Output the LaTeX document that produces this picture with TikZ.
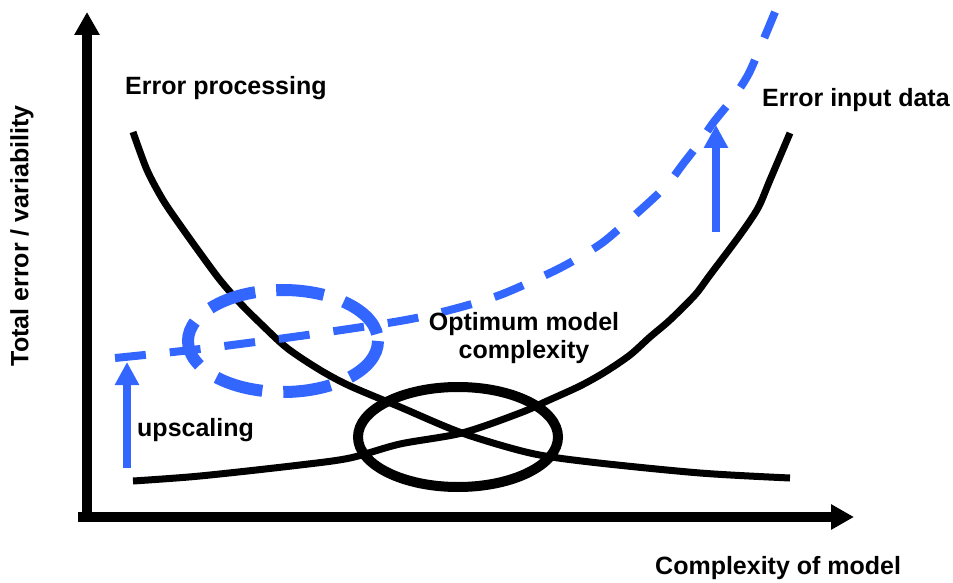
\documentclass[tikz,border=0pt]{standalone}
\usepackage{fontspec}
\setmainfont{Liberation Sans}
\usetikzlibrary{arrows.meta}
\definecolor{myblue}{RGB}{51,102,255}
\tikzset{
  lbl/.style={font=\fontsize{25}{28}\selectfont\bfseries, inner sep=0pt},
  axisline/.style={line width=9.5pt, -{Triangle[length=23pt,width=24pt]}},
  blackcurve/.style={line width=7pt, black},
  bluedash/.style={myblue, line width=8pt, dash pattern=on 31pt off 24pt},
  blueell/.style={myblue, line width=12pt, dash pattern=on 48pt off 21pt},
  bluearrow/.style={myblue, line width=7.5pt, -{Triangle[length=23pt,width=23pt]}}
}
\begin{document}
\begin{tikzpicture}[x=1pt,y=-1pt]
\useasboundingbox (0,0) rectangle (953,583);
% axes
\coordinate (ytip) at (87,12);
\coordinate (xtip) at (854,517);
\coordinate (ystart) at (87,522);
\coordinate (xstart) at (78,517);
\draw[axisline] (ystart) -- (ytip);
\draw[axisline] (xstart) -- (xtip);
% black curves
\draw[blackcurve] plot[smooth, tension=0.5] coordinates {(133,132) (147,170) (163,200) (180,225) (200,253) (220,280) (240,303) (260,323) (287,348) (320,370) (350,386) (400,407) (462,433) (530,453) (590,462) (700,473) (790,478)};
\draw[blackcurve] plot[smooth, tension=0.5] coordinates {(133,481) (200,476) (300,465) (350,458) (400,444) (462,433) (520,413) (547,401) (580,386) (605,372) (630,355) (650,337) (670,320) (695,295) (710,275) (740,235) (758,208) (770,180) (790,133)};
% black ellipse
\draw[line width=10pt] (458,437) ellipse [x radius=100, y radius=50];
% blue dashed curve
\draw[bluedash] plot[smooth, tension=0.5] coordinates {(115,358) (200,349) (300,336) (400,321) (450,310) (500,295) (552,272) (580,257) (602,243) (620,228) (645,206) (667,185) (683,164) (700,142) (713,123) (733,98) (748,75) (760,48) (775,12)};
% blue dashed ellipse
\draw[blueell] (283,341) ellipse [x radius=95, y radius=51];
% blue arrows
\coordinate (ua0) at (127,468);
\coordinate (ua1) at (127,362);
\coordinate (ra0) at (716,232);
\coordinate (ra1) at (716,125);
\draw[bluearrow] (ua0) -- (ua1);
\draw[bluearrow] (ra0) -- (ra1);
% labels
\node[lbl, anchor=west] (ep) at (125,88) {Error processing};
\node[lbl, anchor=west] (eid) at (762,100) {Error input data};
\node[lbl, align=center] (omc) at (524,338) {Optimum model\\complexity};
\node[lbl, anchor=west] (up) at (137,430) {upscaling};
\node[lbl, anchor=west] (com) at (655,568) {Complexity of model};
\node[lbl, rotate=90] (tev) at (22,236) {Total error / variability};
\end{tikzpicture}
\end{document}
